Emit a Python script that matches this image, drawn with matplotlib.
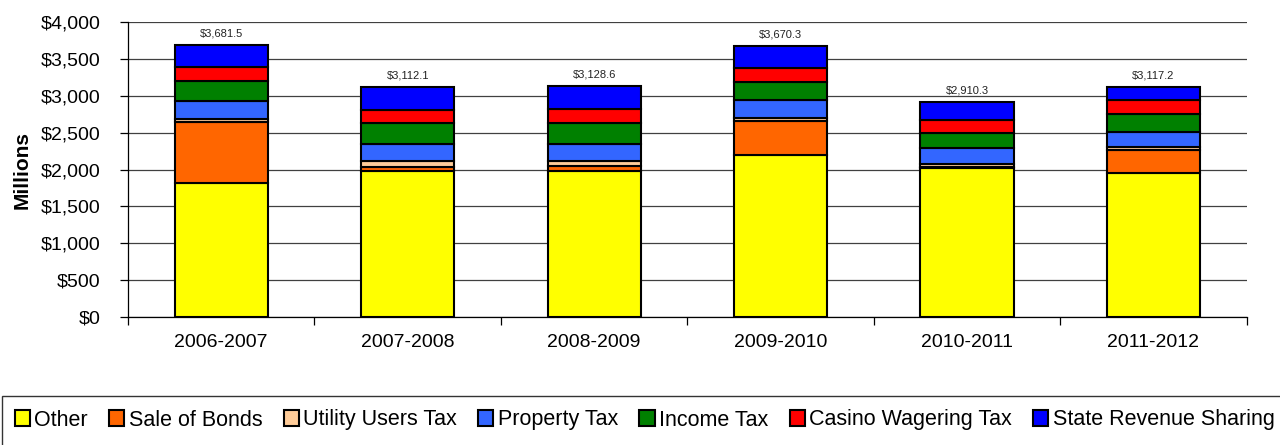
import numpy as np
import matplotlib
matplotlib.use('Agg')
import matplotlib.pyplot as plt
from matplotlib.patches import Rectangle
from matplotlib.ticker import FuncFormatter, FixedLocator

plt.rcParams['font.family'] = ['Liberation Sans', 'DejaVu Sans']

# Revenue by source, in millions
years = ['2006-2007', '2007-2008', '2008-2009', '2009-2010', '2010-2011', '2011-2012']
other = [1813, 1985, 1982, 2194, 2020, 1955]
sale_of_bonds = [828, 55, 60, 464, 10, 305]
utility_users_tax = [47, 73, 75, 45, 45, 40]
property_tax = [241, 230, 235, 234, 210, 210]
income_tax = [271, 283, 279, 248, 215, 245]
casino_wagering_tax = [187, 185, 185, 185, 175, 190]
state_revenue_sharing = [294.5, 301.1, 312.6, 300.3, 235.3, 172.2]

series = [
    ('Other', other, '#FFFF00'),
    ('Sale of Bonds', sale_of_bonds, '#FF6600'),
    ('Utility Users Tax', utility_users_tax, '#FFCC99'),
    ('Property Tax', property_tax, '#3366FF'),
    ('Income Tax', income_tax, '#008000'),
    ('Casino Wagering Tax', casino_wagering_tax, '#FF0000'),
    ('State Revenue Sharing', state_revenue_sharing, '#0000FF'),
]

fig = plt.figure(figsize=(12.8, 4.45), dpi=100)
ax = fig.add_axes([0.1, 0.2876, 0.874, 0.663])

x = np.arange(len(years))
bottom = np.zeros(len(years))
handles = []
for name, vals, color in series:
    vals = np.array(vals, dtype=float)
    b = ax.bar(x, vals, width=0.5, bottom=bottom, color=color,
               edgecolor='black', linewidth=1.5, label=name, zorder=3)
    handles.append(b)
    bottom += vals

# total labels above each stack
for xi, tot in zip(x, bottom):
    ax.annotate(f'${tot:,.1f}', (xi, tot), xytext=(0, 5), textcoords='offset points',
                ha='center', va='bottom', fontsize=8, color='#222222')

ax.set_xlim(-0.5, len(years) - 0.5)
ax.set_ylim(0, 4000)
ax.set_yticks(np.arange(0, 4001, 500))
ax.yaxis.set_major_formatter(FuncFormatter(lambda v, p: f'${v:,.0f}'))
ax.yaxis.grid(True, color='#404040', linewidth=0.9, zorder=0)
ax.set_axisbelow(True)

# category boundary ticks, labels centred between them
ax.xaxis.set_major_locator(FixedLocator(np.arange(-0.5, len(years), 1.0)))
ax.xaxis.set_minor_locator(FixedLocator(x))
ax.set_xticklabels([], minor=False)
ax.set_xticklabels(years, minor=True)
ax.tick_params(axis='x', which='major', length=6, width=0.9, direction='out')
ax.tick_params(axis='x', which='minor', length=0, pad=12, labelsize=14)
ax.tick_params(axis='y', length=6, width=0.9, direction='out', pad=14, labelsize=14)

for s in ['top', 'right']:
    ax.spines[s].set_visible(False)
for s in ['left', 'bottom']:
    ax.spines[s].set_linewidth(0.9)
    ax.spines[s].set_color('black')

ax.set_ylabel('Millions', fontsize=15, fontweight='bold')
ax.yaxis.set_label_coords(-0.086, 0.5)

# legend box running off the right and bottom edges
fig.patches.append(Rectangle((2 / 1280, -0.1), 1.2, 1 - 396 / 445 + 0.1,
                             transform=fig.transFigure, fill=False,
                             edgecolor='#333333', linewidth=1.0))
fig.legend(handles=handles, loc='center left', bbox_to_anchor=(6 / 1280, 1 - 420 / 445),
           ncol=7, frameon=False, fontsize=15.5, handlelength=0.7, handleheight=0.7,
           handletextpad=0.2, columnspacing=1.0, borderaxespad=0)

fig.savefig('out.png', dpi=100)
